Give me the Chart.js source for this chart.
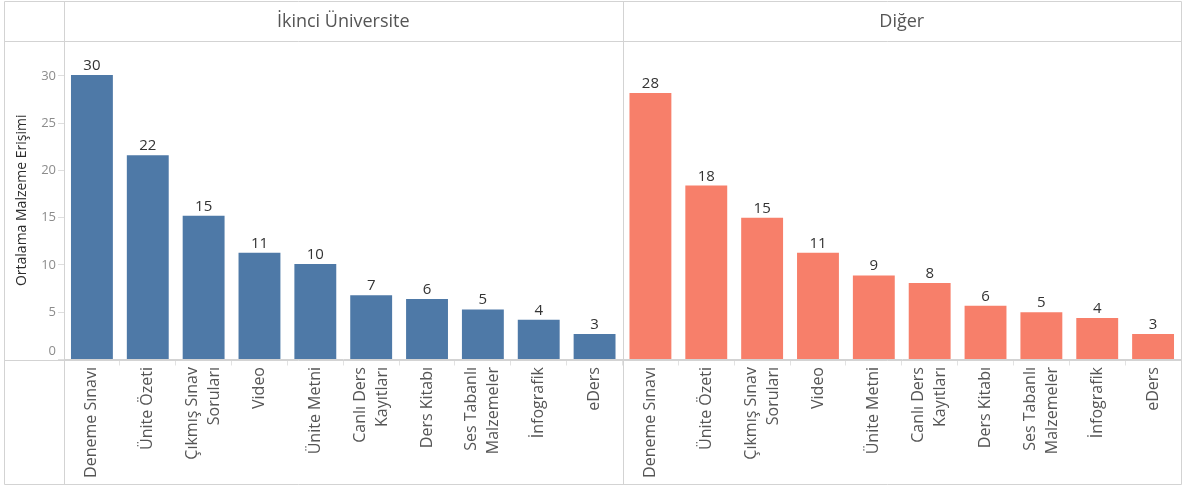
<!DOCTYPE html>
<html lang="tr">
<head>
<meta charset="utf-8">
<title>Ortalama Malzeme Erişimi</title>
<script src="https://cdn.jsdelivr.net/npm/chart.js@4/dist/chart.umd.min.js"></script>
<style>
  html, body { margin: 0; padding: 0; background: #ffffff; }
  #wrap { width: 1183px; height: 486px; }
</style>
</head>
<body>
<div id="wrap"><canvas id="chart" width="1183" height="486"></canvas></div>
<script>
// Material types (multi-line names are given as arrays of lines)
const categories = [
  'Deneme Sınavı',
  'Ünite Özeti',
  ['Çıkmış Sınav', 'Soruları'],
  'Video',
  'Ünite Metni',
  ['Canlı Ders', 'Kayıtları'],
  'Ders Kitabı',
  ['Ses Tabanlı', 'Malzemeler'],
  'İnfografik',
  'eDers'
];

// Student groups (one panel each)
const groups = ['İkinci Üniversite', 'Diğer'];

// Average material access per type
const ikinciValues = [30.1, 21.6, 15.2, 11.3, 10.1, 6.8, 6.4, 5.3, 4.2, 2.7];
const digerValues  = [28.2, 18.4, 15.0, 11.3, 8.9, 8.1, 5.7, 5.0, 4.4, 2.7];

// Value axis
const yTicks = [0, 5, 10, 15, 20, 25, 30];
const yMax = 33.7;
const yTitle = 'Ortalama Malzeme Erişimi';

const FONT = "'Open Sans', 'DejaVu Sans', sans-serif";
const LINE = '#d3d3d3';

const empty = categories.map(() => null);
const labels = categories.concat(categories);

// Frame, panel headers, category names and bar values
const panelPlugin = {
  id: 'panelPlugin',
  afterDraw(chart) {
    const ctx = chart.ctx;
    const x = chart.scales.x;
    const y = chart.scales.y;
    const area = chart.chartArea;
    const n = categories.length;
    const left = 4.5, top = 1.5, right = 1181.5, bottom = 484.5;
    const split = Math.round((x.getPixelForValue(n - 1) + x.getPixelForValue(n)) / 2) + 0.5;
    const axisX = Math.round(area.left) + 0.5;
    const baseY = Math.round(area.bottom) + 0.5;
    const headY = Math.round(area.top) + 0.5;

    ctx.save();
    ctx.strokeStyle = LINE;
    ctx.lineWidth = 1;
    ctx.beginPath();
    ctx.rect(left, top, right - left, bottom - top);
    ctx.moveTo(left, headY); ctx.lineTo(right, headY);
    ctx.moveTo(left, baseY); ctx.lineTo(right, baseY);
    ctx.moveTo(axisX, top); ctx.lineTo(axisX, bottom);
    ctx.moveTo(split, top); ctx.lineTo(split, bottom);
    ctx.stroke();

    // panel headers
    ctx.fillStyle = '#555555';
    ctx.font = `18px ${FONT}`;
    ctx.textAlign = 'center';
    ctx.textBaseline = 'middle';
    groups.forEach((g, gi) => {
      const cx = (x.getPixelForValue(gi * n) + x.getPixelForValue(gi * n + n - 1)) / 2;
      ctx.fillText(g, cx, (top + headY) / 2);
    });

    // zero label sits just above the baseline
    ctx.fillStyle = '#8c8c8c';
    ctx.font = `13px ${FONT}`;
    ctx.textAlign = 'right';
    ctx.fillText('0', area.left - 8, y.getPixelForValue(0) - 8);

    // category names, rotated, ending just under the baseline
    ctx.fillStyle = '#555555';
    ctx.font = `16px ${FONT}`;
    const lh = 22;
    labels.forEach((lab, i) => {
      const lines = Array.isArray(lab) ? lab : [lab];
      const cx = x.getPixelForValue(i);
      lines.forEach((line, li) => {
        const off = (li - (lines.length - 1) / 2) * lh;
        ctx.save();
        ctx.translate(cx + off, area.bottom + 7.5);
        ctx.rotate(-Math.PI / 2);
        ctx.textAlign = 'right';
        ctx.textBaseline = 'middle';
        ctx.fillText(line, 0, 0);
        ctx.restore();
      });
    });

    // rounded values above the bars
    ctx.fillStyle = '#333333';
    ctx.font = `15px ${FONT}`;
    ctx.textAlign = 'center';
    ctx.textBaseline = 'alphabetic';
    chart.data.datasets.forEach((ds, di) => {
      const meta = chart.getDatasetMeta(di);
      meta.data.forEach((bar, i) => {
        const v = ds.data[i];
        if (v === null || v === undefined) return;
        ctx.fillText(String(Math.round(v)), bar.x, bar.y - 5);
      });
    });
    ctx.restore();
  }
};

new Chart(document.getElementById('chart'), {
  type: 'bar',
  data: {
    labels: labels,
    datasets: [
      {
        label: groups[0],
        data: ikinciValues.concat(empty),
        backgroundColor: '#4e79a7'
      },
      {
        label: groups[1],
        data: empty.concat(digerValues),
        backgroundColor: '#f77f6a'
      }
    ]
  },
  options: {
    responsive: false,
    devicePixelRatio: 1,
    animation: false,
    layout: { padding: { top: 41, right: 2, bottom: 0, left: 0 } },
    datasets: {
      bar: {
        grouped: false,
        categoryPercentage: 0.75,
        barPercentage: 1,
        borderWidth: 0
      }
    },
    plugins: {
      legend: { display: false },
      tooltip: { enabled: false }
    },
    scales: {
      x: {
        type: 'category',
        offset: true,
        grid: {
          offset: true,
          drawOnChartArea: false,
          drawTicks: true,
          tickLength: 6,
          color: '#e2e2e2'
        },
        border: { display: true, color: LINE },
        ticks: { display: false },
        afterFit(scale) { scale.height = 126.5; }
      },
      y: {
        min: 0,
        max: yMax,
        afterBuildTicks(scale) { scale.ticks = yTicks.map(v => ({ value: v })); },
        grid: {
          drawOnChartArea: false,
          drawTicks: true,
          tickLength: 6,
          color: '#dedede'
        },
        border: { display: true, color: LINE },
        ticks: {
          color: '#8c8c8c',
          font: { family: FONT, size: 13 },
          padding: 2,
          callback: (v) => (v === 0 ? '' : String(v))
        },
        title: {
          display: true,
          text: yTitle,
          color: '#2b2b2b',
          font: { family: FONT, size: 14, weight: '500' },
          padding: { top: 14, bottom: 0 }
        },
        afterFit(scale) { scale.width = 64; }
      }
    }
  },
  plugins: [panelPlugin]
});
</script>
</body>
</html>
